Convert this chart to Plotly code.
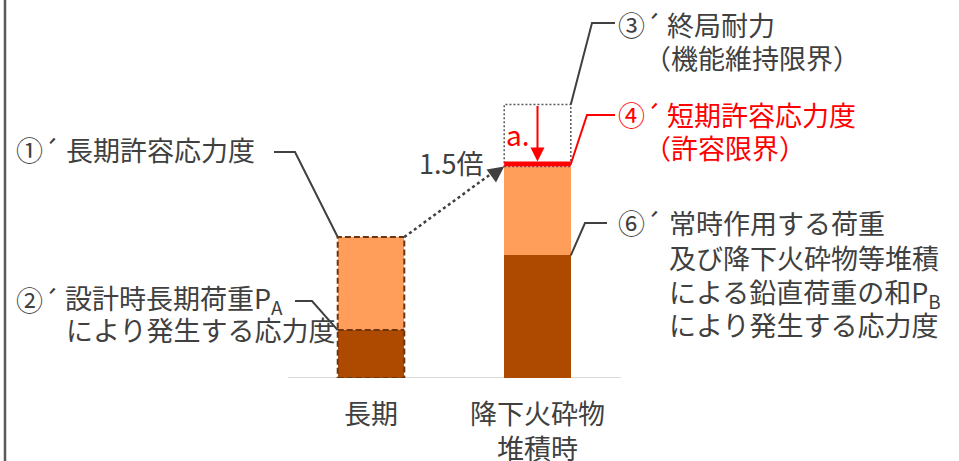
import plotly.graph_objects as go

# ---------------- data ----------------
categories = ["長期", "降下火砕物<br>堆積時"]
load_stress = [34, 87]          # ②´ PA / ⑥´ PB による応力度
allowable = [100, 150]          # ①´ 長期許容応力度 / ④´ 短期許容応力度 (1.5倍)
ultimate = 194                  # ③´ 終局耐力（機能維持限界）
margin_stress = [a - l for a, l in zip(allowable, load_stress)]

# ---------------- style ----------------
W, H = 959, 461
MB = 83
X0_PX, X_UNIT = 371.0, 166.5      # pixel of category 0, pixels per category
Y_UNIT = 1.41                     # pixels per stress unit
BASE_PX = H - MB
BAR_W = 0.4
DARK = "#AE4A00"
LIGHT = "#FF9E5B"
EDGE = "#6B3510"
TXT = "#404040"
RED = "#FF0000"
FONT = "Noto Sans CJK JP"
FS = 27
RED_THICK = 3.5
DY = -4   # visual centering correction for CJK text


def X(px):
    return (px - X0_PX) / X_UNIT


def Y(py):
    return (BASE_PX - py) / Y_UNIT


xs = list(range(len(categories)))
fig = go.Figure()
fig.add_trace(go.Bar(x=xs, y=load_stress, width=BAR_W, marker=dict(color=DARK, line=dict(width=0)),
                     hoverinfo="skip"))
fig.add_trace(go.Bar(x=xs, y=margin_stress, width=BAR_W, marker=dict(color=LIGHT, line=dict(width=0)),
                     hoverinfo="skip"))

shapes = []
L, R = 0 - BAR_W / 2, 0 + BAR_W / 2
RL, RR = 1 - BAR_W / 2, 1 + BAR_W / 2
# baseline
shapes.append(dict(type="line", xref="x", yref="y", x0=-0.5, x1=1.5, y0=0, y1=0,
                   line=dict(color="#D9D9D9", width=2), layer="below"))
# left border
shapes.append(dict(type="line", xref="paper", yref="paper", x0=5 / W, x1=5 / W,
                   y0=-MB / BASE_PX, y1=1, line=dict(color="#595959", width=2.5)))
# dashed outline of long-term bar
shapes.append(dict(type="rect", xref="x", yref="y", x0=L, x1=R, y0=0, y1=allowable[0],
                   line=dict(color=EDGE, width=2, dash="6px,3px")))
shapes.append(dict(type="line", xref="x", yref="y", x0=L, x1=R, y0=load_stress[0], y1=load_stress[0],
                   line=dict(color=EDGE, width=2, dash="6px,3px")))
# dotted ultimate box
shapes.append(dict(type="rect", xref="x", yref="y", x0=RL, x1=RR, y0=allowable[1], y1=ultimate,
                   line=dict(color="#595959", width=1.5, dash="2px,2px")))
# red short-term allowable line
shapes.append(dict(type="rect", xref="x", yref="y", x0=RL, x1=RR, y0=allowable[1],
                   y1=allowable[1] + RED_THICK, fillcolor=RED, line=dict(width=0)))
# dotted 1.5x line
shapes.append(dict(type="line", xref="x", yref="y", x0=R, y0=allowable[0], x1=X(495), y1=Y(171),
                   line=dict(color=TXT, width=2.5, dash="3px,3px")))


def leader(pts, color):
    d = "M " + " L ".join(f"{x},{y}" for x, y in pts)
    shapes.append(dict(type="path", xref="x", yref="y", path=d, line=dict(color=color, width=2)))


leader([(X(274), Y(152)), (X(295), Y(152)), (L, allowable[0])], TXT)
leader([(X(295), Y(301)), (X(312), Y(301)), (L, load_stress[0])], TXT)
leader([(X(615), Y(23)), (X(592), Y(23)), (RR, ultimate)], TXT)
leader([(X(615), Y(115)), (X(587), Y(115)), (RR, allowable[1] + RED_THICK / 2)], RED)
leader([(X(607), Y(223)), (X(585), Y(223)), (RR, load_stress[1])], TXT)

ann = []


def label(text, lpx, cpy, color=TXT, size=FS):
    ann.append(dict(text=text, x=X(lpx), y=Y(cpy + DY), xref="x", yref="y", xanchor="left",
                    yanchor="middle", showarrow=False, font=dict(family=FONT, size=size, color=color)))


label("①´", 14, 153)
label("長期許容応力度", 64, 153)
label("②´", 14, 303)
label("設計時長期荷重P<sub>A</sub>", 63, 303)
label("により発生する応力度", 64, 333)
label("③´", 616, 28)
label("終局耐力", 665, 28)
label("（機能維持限界）", 642, 61)
label("④´", 616, 118, RED)
label("短期許容応力度", 665, 118, RED)
label("（許容限界）", 642, 151, RED)
label("⑥´", 616, 226)
label("常時作用する荷重", 667, 226)
label("及び降下火砕物等堆積", 667, 261)
label("による鉛直荷重の和P<sub>B</sub>", 667, 297)
label("により発生する応力度", 667, 328)
label("1.5倍", 417, 166)
label("a.", 504, 138, RED, 28)

# arrowheads
ann.append(dict(x=RL, y=allowable[1], xref="x", yref="y", text="", showarrow=True,
                ax=-13, ay=9.5, arrowhead=2, arrowsize=1.6, arrowwidth=2, arrowcolor=TXT, standoff=0))
ann.append(dict(x=1, y=allowable[1] + RED_THICK, xref="x", yref="y", text="", showarrow=True,
                ax=1, ay=ultimate, axref="x", ayref="y", arrowhead=2, arrowsize=1.4, arrowwidth=2,
                arrowcolor=RED, standoff=0))

fig.update_layout(
    width=W, height=H, barmode="stack", showlegend=False,
    margin=dict(l=0, r=0, t=0, b=MB, autoexpand=False),
    plot_bgcolor="white", paper_bgcolor="white",
    shapes=shapes, annotations=ann,
    xaxis=dict(range=[X(0), X(W)], tickvals=xs, ticktext=categories, showgrid=False, zeroline=False,
               showline=False, ticks="", tickfont=dict(family=FONT, size=FS, color=TXT),
               ticklabelstandoff=18, automargin=False, fixedrange=True),
    yaxis=dict(range=[0, Y(0)], visible=False, automargin=False, fixedrange=True),
)
fig.write_html("out.html", config={"displayModeBar": False},
               post_script="document.body.style.margin='0';document.body.style.overflow='hidden';")
